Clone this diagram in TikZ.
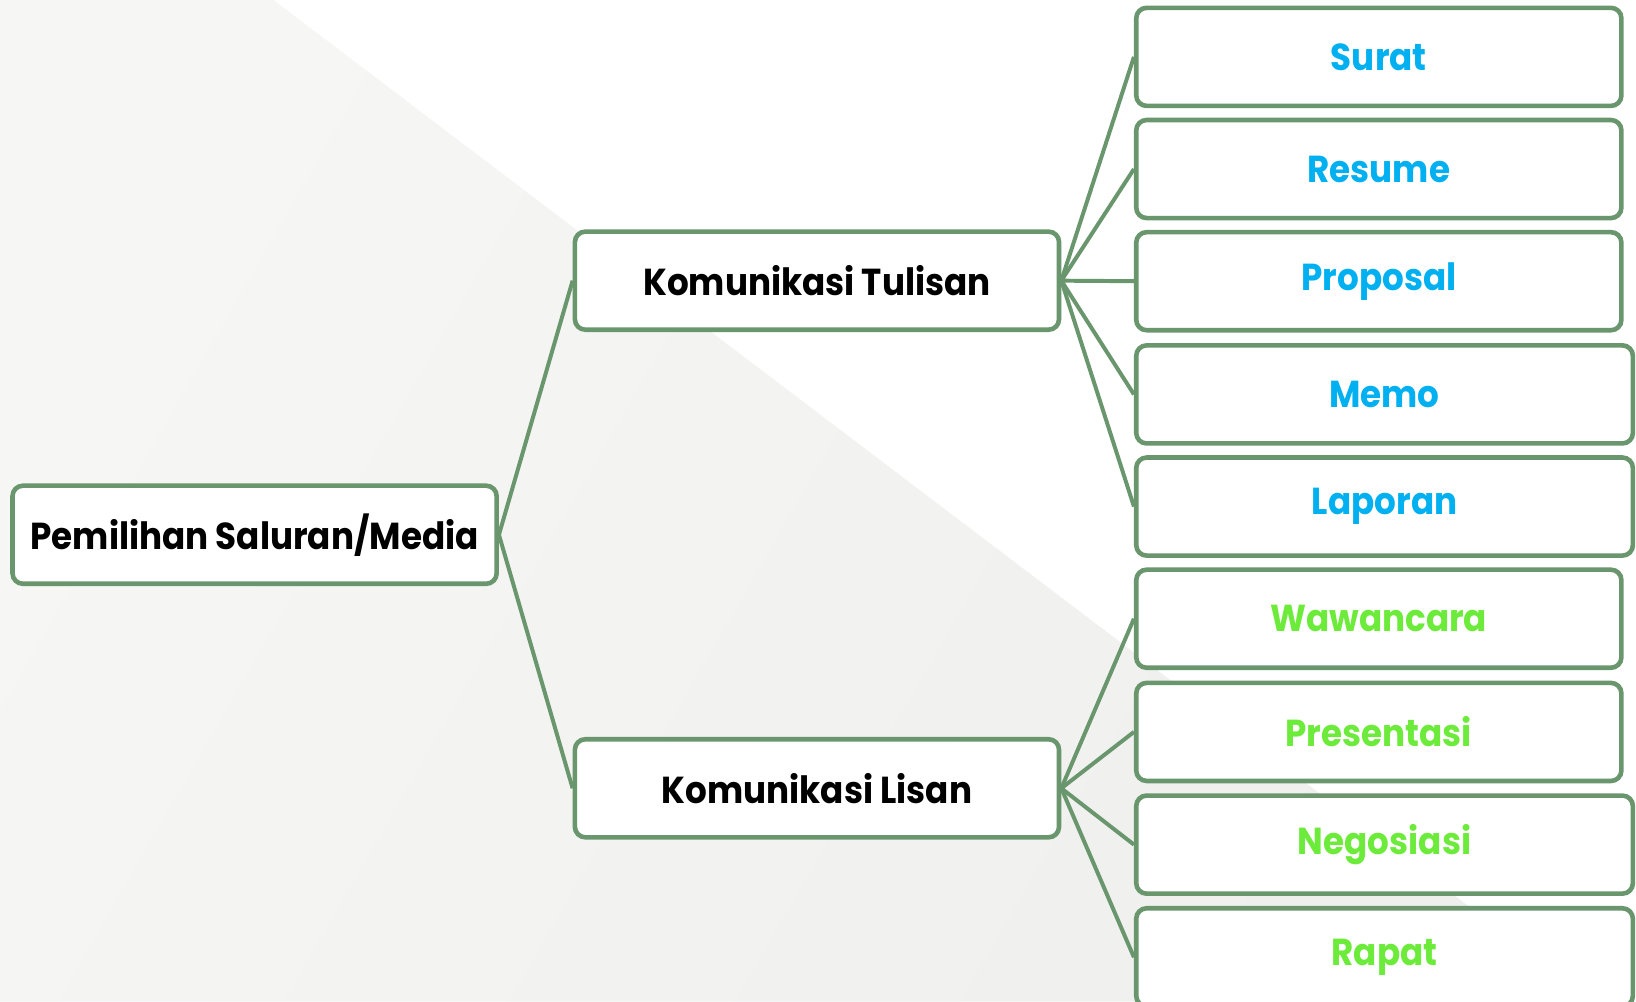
\documentclass[tikz,border=0pt]{standalone}
\usepackage{graphicx}
\usepackage{fontspec}
\setmainfont{Poppins}
\definecolor{bord}{RGB}{106,150,110}
\definecolor{bluet}{RGB}{0,176,240}
\definecolor{greent}{RGB}{108,235,58}
\definecolor{bgA}{RGB}{246,246,245}
\definecolor{bgB}{RGB}{239,239,237}
\newcommand{\hsq}[1]{\scalebox{0.91}[1]{#1}}
\tikzset{
  box/.style={draw=bord, line width=2.2pt, rounded corners=5pt, fill=white,
    minimum height=47pt, inner sep=0pt, font=\bfseries\fontsize{18}{22}\selectfont},
  mainbox/.style={box, minimum width=232pt, text=black},
  shortbox/.style={box, minimum width=232.5pt},
  longbox/.style={box, minimum width=238pt},
  blu/.style={text=bluet},
  grn/.style={text=greent},
  link/.style={draw=bord, line width=1.9pt}
}
\begin{document}
\begin{tikzpicture}[x=0.5pt,y=-0.5pt]
\useasboundingbox (0,0) rectangle (1568,960);
\clip (0,0) rectangle (1568,960);
\fill[white] (0,0) rectangle (1568,960);
\shade[left color=bgA, right color=bgB, shading angle=60] (0,0) -- (262,0) -- (1528,960) -- (0,960) -- cycle;

\node[mainbox] (P) at (244,512.5) {\hsq{Pemilihan Saluran/Media}};
\node[mainbox] (KT) at (783,269) {\hsq{Komunikasi Tulisan}};
\node[mainbox] (KL) at (783,755.5) {\hsq{Komunikasi Lisan}};

\node[shortbox, blu] (s1) at (1321.5,54.5) {\hsq{Surat}};
\node[shortbox, blu] (s2) at (1321.5,162) {\hsq{Resume}};
\node[shortbox, blu] (s3) at (1321.5,269.5) {\hsq{Proposal}};
\node[longbox, blu] (s4) at (1327,378) {\hsq{Memo}};
\node[longbox, blu] (s5) at (1327,485.5) {\hsq{Laporan}};
\node[shortbox, grn] (l1) at (1321.5,593) {\hsq{Wawancara}};
\node[shortbox, grn] (l2) at (1321.5,701.5) {\hsq{Presentasi}};
\node[longbox, grn] (l3) at (1327,809.5) {\hsq{Negosiasi}};
\node[longbox, grn] (l4) at (1327,917.5) {\hsq{Rapat}};

\draw[link] (P.east) -- (KT.west);
\draw[link] (P.east) -- (KL.west);
\foreach \n in {s1,s2,s3,s4,s5} \draw[link] (KT.east) -- (\n.west);
\foreach \n in {l1,l2,l3,l4} \draw[link] (KL.east) -- (\n.west);
\end{tikzpicture}
\end{document}
